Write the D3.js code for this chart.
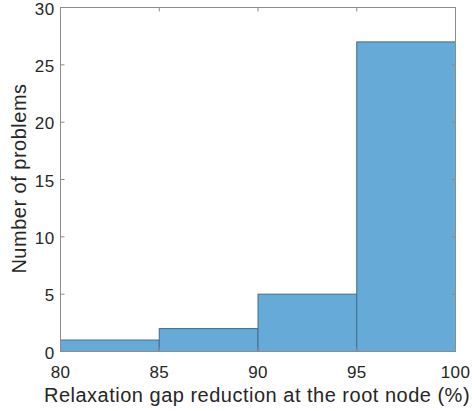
<!DOCTYPE html>
<html><head><meta charset="utf-8">
<script src="https://cdn.jsdelivr.net/npm/d3@7"></script>
<style>body{margin:0;background:#fff}svg{display:block}text{font-family:"Liberation Sans",Arial,sans-serif;fill:#262626}</style>
</head><body>
<svg id="c" width="472" height="411"></svg>
<script>
const binEdges = [80, 85, 90, 95, 100];
const counts = [1, 2, 5, 27];
const xTicks = [80, 85, 90, 95, 100];
const yTicks = [0, 5, 10, 15, 20, 25, 30];

const svg = d3.select("#c");
const m = {l: 60.5, r: 455.5, t: 7.5, b: 351.5};
const x = d3.scaleLinear().domain([80, 100]).range([m.l, m.r]);
const y = d3.scaleLinear().domain([0, 30]).range([m.b, m.t]);

const bins = counts.map((c, i) => ({x0: binEdges[i], x1: binEdges[i + 1], c}));
svg.append("g").selectAll("rect").data(bins).join("rect")
  .attr("x", d => x(d.x0)).attr("width", d => x(d.x1) - x(d.x0))
  .attr("y", d => y(d.c)).attr("height", d => y(0) - y(d.c))
  .attr("fill", "#66aad7").attr("stroke", "#3e6e8f").attr("stroke-width", 1);

// box
svg.append("rect").attr("x", m.l).attr("y", m.t).attr("width", m.r - m.l).attr("height", m.b - m.t)
  .attr("fill", "none").attr("stroke", "#8c8c8c").attr("stroke-width", 1);

const tl = 4;
const gx = svg.append("g");
xTicks.forEach(v => {
  gx.append("line").attr("x1", x(v)).attr("x2", x(v)).attr("y1", m.b).attr("y2", m.b - tl).attr("stroke", "#8c8c8c");
  gx.append("line").attr("x1", x(v)).attr("x2", x(v)).attr("y1", m.t).attr("y2", m.t + tl).attr("stroke", "#8c8c8c");
  gx.append("text").attr("x", x(v)).attr("y", 377.5).attr("text-anchor", "middle").attr("font-size", 17).attr("letter-spacing", 0.4).text(v);
});
const gy = svg.append("g");
yTicks.forEach(v => {
  gy.append("line").attr("x1", m.l).attr("x2", m.l + tl).attr("y1", y(v)).attr("y2", y(v)).attr("stroke", "#8c8c8c");
  gy.append("line").attr("x1", m.r).attr("x2", m.r - tl).attr("y1", y(v)).attr("y2", y(v)).attr("stroke", "#8c8c8c");
  gy.append("text").attr("x", 54.5).attr("y", y(v) + 7).attr("text-anchor", "end").attr("font-size", 17).attr("letter-spacing", 0.4).text(v);
});

svg.append("text").attr("x", 257).attr("y", 401.5).attr("text-anchor", "middle").attr("font-size", 20).attr("letter-spacing", 0.5)
  .text("Relaxation gap reduction at the root node (%)");
svg.append("text").attr("transform", `translate(26,178.5) rotate(-90)`).attr("text-anchor", "middle").attr("font-size", 20).attr("letter-spacing", 0.5)
  .text("Number of problems");
</script>
</body></html>
